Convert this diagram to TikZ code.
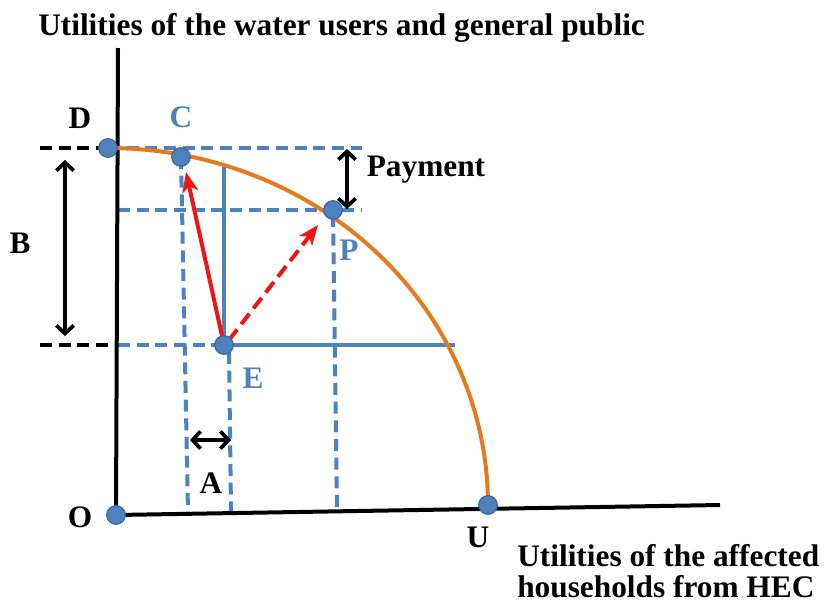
\documentclass[tikz,border=0pt]{standalone}
\usepackage{fontspec}
\setmainfont{Liberation Serif}
\usetikzlibrary{arrows.meta}
\definecolor{ublue}{HTML}{4F81BD}
\definecolor{dotborder}{HTML}{3A679C}
\definecolor{uorange}{HTML}{E47A1E}
\definecolor{ured}{HTML}{F01414}
\begin{document}
\begin{tikzpicture}[x=0.75pt,y=-0.75pt,
  axisline/.style={black, line width=3pt},
  dot/.style={circle, fill=ublue, draw=dotborder, line width=0.9pt, minimum size=14pt, inner sep=0pt},
  lbl/.style={font=\bfseries\fontsize{23.5}{27}\selectfont, inner sep=0pt},
  bluelbl/.style={lbl, text=ublue},
  bdash/.style={ublue, line width=3pt, dash pattern=on 9pt off 5pt},
  kdash/.style={black, line width=2.8pt, dash pattern=on 9pt off 5pt},
  bsolid/.style={ublue, line width=2.8pt},
  dimarrow/.style={black, line width=2.8pt, {Straight Barb[length=6pt,width=13pt]}-{Straight Barb[length=6pt,width=13pt]}},
  redarrow/.style={ured, line width=3pt, -{Stealth[length=15pt,width=12pt,inset=4pt]}},
  curve/.style={uorange, line width=3pt}
]
\useasboundingbox (0,0) rectangle (824,604);
% positions
\coordinate (o) at (116,515);
\coordinate (d) at (108,148);
\coordinate (c) at (181,157);
\coordinate (p) at (333,210);
\coordinate (e) at (224,345);
\coordinate (u) at (488,505);
\coordinate (ytop) at (118,48);
\coordinate (xend) at (720,505);
% guide lines
\coordinate (kl1) at (40,148);
\coordinate (kl2) at (40,345);
\coordinate (ax1) at (118,345);
\coordinate (ax2) at (118,210);
\coordinate (tr1) at (362,148);
\coordinate (tr2) at (362,210);
\coordinate (hr) at (455,345);
\coordinate (vt) at (224,166);
\coordinate (cb) at (188,512);
\coordinate (et) at (229,352);
\coordinate (eb) at (231,511);
\coordinate (pt) at (333,215);
\coordinate (pb) at (337,509);
\draw[kdash] (kl1) -- (d);
\draw[bdash] (d) -- (tr1);
\draw[bdash] (ax2) -- (tr2);
\draw[kdash] (kl2) -- (ax1);
\draw[bdash] (ax1) -- (e);
\draw[bsolid] (e) -- (hr);
\draw[bsolid] (e) -- (vt);
\draw[bdash] (c) -- (cb);
\draw[bdash] (et) -- (eb);
\draw[bdash] (pt) -- (pb);
% axes
\draw[axisline] (ytop) -- (o) -- (xend);
% curve
\draw[curve] plot[domain=90:0, samples=80] ({108+380*cos(\x)},{505-357*sin(\x)});
% dimension arrows
\coordinate (b1) at (65,160);
\coordinate (b2) at (65,336);
\coordinate (pay1) at (347,149);
\coordinate (pay2) at (347,209);
\coordinate (a1) at (190,440);
\coordinate (a2) at (231,440);
\draw[dimarrow] (b1) -- (b2);
\draw[dimarrow] (pay1) -- (pay2);
\draw[dimarrow] (a1) -- (a2);
% red arrows
\coordinate (ctip) at (186,172);
\coordinate (dstart) at (229,340);
\coordinate (dtip) at (318,225);
\draw[redarrow] (e) -- (ctip);
\draw[redarrow, dash pattern=on 10pt off 5pt] (dstart) -- (dtip);
% dots
\node[dot] (O) at (o) {};
\node[dot] (D) at (d) {};
\node[dot] (C) at (c) {};
\node[dot] (P) at (p) {};
\node[dot] (E) at (e) {};
\node[dot] (U) at (u) {};
% labels
\node[lbl, anchor=west] (title) at (38,28) {Utilities of the water users and general public};
\node[lbl] (lD) at (80,118) {D};
\node[bluelbl] (lC) at (181,117) {C};
\node[bluelbl] (lP) at (349,250) {P};
\node[bluelbl] (lE) at (253,378) {E};
\node[lbl] (lU) at (478,537) {U};
\node[lbl] (lO) at (80,517) {O};
\node[lbl] (lA) at (211,483) {A};
\node[lbl] (lB) at (20,243) {B};
\node[lbl] (lPay) at (426,170) {Payment};
\node[lbl, anchor=west] (x1) at (517,556) {Utilities of the affected};
\node[lbl, anchor=west] (x2) at (517,587) {households from HEC};
\end{tikzpicture}
\end{document}
